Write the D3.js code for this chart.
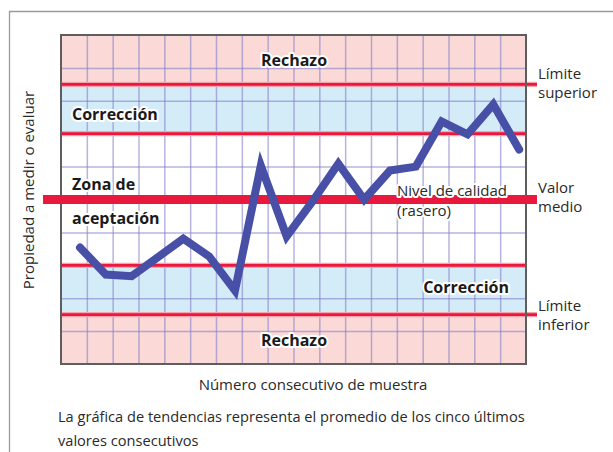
<!DOCTYPE html>
<html>
<head>
<meta charset="utf-8">
<script src="https://cdn.jsdelivr.net/npm/d3@7"></script>
<style>
  html, body { margin: 0; padding: 0; background: #fff; }
  svg { display: block; font-family: "Open Sans", "Noto Sans", sans-serif; }
  .halo { paint-order: stroke; stroke: #fff; stroke-width: 4px; stroke-linejoin: round; }
</style>
</head>
<body>
<script>
// Sample numbers along the horizontal axis and the trend (average of last five values)
const samples = [1, 2, 3, 4, 5, 6, 7, 8, 9, 10, 11, 12, 13, 14, 15, 16, 17, 18];
const trendValues = [-1.46, -2.28, -2.33, -1.76, -1.19, -1.73, -2.77, 1.03, -1.12, -0.06,
                     1.09, 0.0, 0.88, 1.0, 2.37, 1.98, 2.89, 1.52];

// Control levels, in grid units around the mean value
const scaleExtent = [-5, 5];
const meanValue = 0;
const controlLimits = [3.5, -3.5];     // Límite superior / inferior
const warningLimits = [2, -2];         // edges of the correction bands
const gridColumns = 18;

// Zones between the levels
const zoneNames = ["Rechazo", "Corrección", "Zona de aceptación", "Corrección", "Rechazo"];
const zoneBounds = [[3.5, 5], [2, 3.5], [-2, 2], [-3.5, -2], [-5, -3.5]];

const W = 613, H = 452;
const plot = { left: 61, right: 526, top: 35, bottom: 364 };
const markOffset = 0.735;   // samples sit a little right of each grid line

const svg = d3.select("body").append("svg").attr("width", W).attr("height", H);

const x = d3.scaleLinear().domain([0, gridColumns]).range([plot.left, plot.right]);
const y = d3.scaleLinear().domain(scaleExtent).range([plot.bottom, plot.top]);

// outer frame
svg.append("path")
  .attr("d", `M9.5,${H} V11.5 H${W}`)
  .attr("fill", "none").attr("stroke", "#9a9a9a").attr("stroke-width", 1.3);

// zone fills
const zoneFill = ["#fbd9d6", "#d3ecf8", "#ffffff", "#d3ecf8", "#fbd9d6"];
svg.append("g").selectAll("rect").data(zoneBounds).join("rect")
  .attr("x", plot.left).attr("width", plot.right - plot.left)
  .attr("y", d => y(d[1])).attr("height", d => y(d[0]) - y(d[1]))
  .attr("fill", (d, i) => zoneFill[i]);

// grid from the axes
const gridStyle = g => {
  g.select(".domain").remove();
  g.selectAll(".tick line").attr("stroke", "#8580cc").attr("stroke-opacity", 0.6).attr("stroke-width", 1.5);
  g.selectAll(".tick text").remove();
};
svg.append("g").attr("transform", `translate(0,${plot.bottom})`)
  .call(d3.axisBottom(x).tickValues(d3.range(1, gridColumns)).tickSize(-(plot.bottom - plot.top)).tickFormat(""))
  .call(gridStyle);
svg.append("g").attr("transform", `translate(${plot.left},0)`)
  .call(d3.axisLeft(y).tickValues(d3.range(scaleExtent[0] + 1, scaleExtent[1])).tickSize(-(plot.right - plot.left)).tickFormat(""))
  .call(gridStyle);

// red level lines (soft glow underneath)
function redLine(v, x0, x1, w) {
  svg.append("line").attr("x1", x0).attr("x2", x1).attr("y1", y(v)).attr("y2", y(v))
    .attr("stroke", "#f6a3ad").attr("stroke-width", w + 2.5);
  svg.append("line").attr("x1", x0).attr("x2", x1).attr("y1", y(v)).attr("y2", y(v))
    .attr("stroke", "#e8193c").attr("stroke-width", w);
}
warningLimits.forEach(v => redLine(v, plot.left, plot.right, 2.8));
controlLimits.forEach(v => redLine(v, plot.left, 537, 2.8));

// plot border
svg.append("rect")
  .attr("x", plot.left).attr("y", plot.top)
  .attr("width", plot.right - plot.left).attr("height", plot.bottom - plot.top)
  .attr("fill", "none").attr("stroke", "#5e5e5e").attr("stroke-width", 2);

// mean level (rasero)
svg.append("line").attr("x1", 43).attr("x2", 537).attr("y1", y(meanValue)).attr("y2", y(meanValue))
  .attr("stroke", "#e8193c").attr("stroke-width", 9);

// trend line
const line = d3.line().x((d, i) => x(samples[i] - 1 + markOffset)).y(d => y(d));
svg.append("path").datum(trendValues)
  .attr("d", line)
  .attr("fill", "none").attr("stroke", "#4750a6").attr("stroke-width", 8)
  .attr("stroke-linejoin", "miter").attr("stroke-linecap", "round");

// zone labels
const bold = (txt, px, py, anchor) => svg.append("text").attr("class", "halo")
  .attr("x", px).attr("y", py).attr("text-anchor", anchor || "start")
  .attr("font-size", 16).attr("font-weight", 700).attr("fill", "#1a1a1a").text(txt);
bold(zoneNames[0], 294, 66, "middle");
bold(zoneNames[1], 72, 120);
bold("Zona de", 72, 190);
bold("aceptación", 72, 224);
bold(zoneNames[3], 509, 293, "end");
bold(zoneNames[4], 294, 346, "middle");

const reg = (txt, px, py, size, cls) => svg.append("text").attr("class", cls || null)
  .attr("x", px).attr("y", py).attr("font-size", size).attr("fill", "#2a2a2a").text(txt);
reg("Nivel de calidad", 397, 196, 15, "halo");
reg("(rasero)", 397, 216, 15, "halo");

reg("Límite", 538, 79, 15);
reg("superior", 538, 98, 15);
reg("Valor", 538, 193, 15);
reg("medio", 538, 212, 15);
reg("Límite", 538, 311, 15);
reg("inferior", 538, 330, 15);

// axis titles
svg.append("text").attr("x", 313).attr("y", 390).attr("text-anchor", "middle")
  .attr("font-size", 15).attr("fill", "#2a2a2a").text("Número consecutivo de muestra");
svg.append("text").attr("transform", "translate(34,190) rotate(-90)").attr("text-anchor", "middle")
  .attr("font-size", 15).attr("fill", "#2a2a2a").text("Propiedad a medir o evaluar");

// caption
reg("La gráfica de tendencias representa el promedio de los cinco últimos", 58, 422, 14.6);
reg("valores consecutivos", 58, 446, 14.6);
</script>
</body>
</html>
